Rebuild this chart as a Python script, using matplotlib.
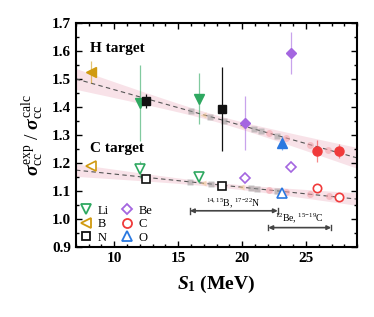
import numpy as np
import matplotlib
matplotlib.use("Agg")
import matplotlib.pyplot as plt
from matplotlib.lines import Line2D

plt.rcParams['font.family'] = ['Liberation Serif', 'DejaVu Serif']
plt.rcParams['mathtext.fontset'] = 'custom'
plt.rcParams['mathtext.rm'] = 'Liberation Serif'
plt.rcParams['mathtext.it'] = 'Liberation Serif:italic:bold'
plt.rcParams['mathtext.bf'] = 'Liberation Serif:bold'

# ---------------- data ----------------
elements = ['Li', 'Be', 'B', 'C', 'N', 'O']
colors = {'Li': '#2ea860', 'Be': '#a466e0', 'B': '#d09a10', 'C': '#f03a3a', 'N': '#111111', 'O': '#2a78e0'}
markers = {'Li': 'v', 'Be': 'D', 'B': '<', 'C': 'o', 'N': 's', 'O': '^'}

# H target (filled)
h_elem = ['B', 'Li', 'N', 'Li', 'N', 'Be', 'Be', 'O', 'C', 'C']
h_x = [8.16, 12.05, 12.5, 16.6, 18.45, 20.26, 23.83, 23.1, 25.86, 27.57]
h_y = [1.525, 1.413, 1.420, 1.430, 1.394, 1.342, 1.593, 1.273, 1.244, 1.244]
h_err = [0.04, 0.135, 0.025, 0.09, 0.15, 0.097, 0.075, 0.025, 0.04, 0.025]

# C target (open)
c_elem = ['B', 'Li', 'N', 'Li', 'N', 'Be', 'Be', 'O', 'C', 'C']
c_x = [8.16, 12.05, 12.5, 16.6, 18.45, 20.26, 23.83, 23.1, 25.86, 27.57]
c_y = [1.190, 1.178, 1.142, 1.149, 1.118, 1.146, 1.185, 1.092, 1.110, 1.080]
c_err = [0.01, 0.03, 0.01, 0.02, 0.01, 0.01, 0.01, 0.01, 0.01, 0.01]

# faded background points (H target)
hf_elem = ['N', 'B', 'N', 'N', 'B', 'N', 'N', 'C', 'N', 'C', 'C', 'C', 'C']
hf_x = [16.0, 16.92, 17.45, 18.6, 20.0, 20.95, 21.45, 22.1, 22.76, 23.4, 25.3, 26.7, 27.56]
hf_y = [1.385, 1.373, 1.366, 1.351, 1.334, 1.321, 1.315, 1.307, 1.298, 1.290, 1.266, 1.248, 1.237]

# faded background points (C target)
cf_elem = ['N', 'B', 'N', 'N', 'B', 'N', 'N', 'C', 'N', 'C', 'C', 'C']
cf_x = [15.95, 16.92, 17.6, 18.5, 19.95, 20.73, 21.2, 22.1, 22.7, 23.4, 25.3, 26.8]
cf_y = [1.133, 1.128, 1.125, 1.121, 1.114, 1.110, 1.108, 1.104, 1.101, 1.098, 1.089, 1.082]

# linear fits: intercept at x=7, slope, band half-width params
h_fit = dict(y0=1.500, slope=-0.0128, a=0.012, b=0.0032, xc=18.0)
c_fit = dict(y0=1.175, slope=-0.0047, a=0.008, b=0.0019, xc=18.0)

ranges = [(15.92, 22.79, 1.030, r'$^{14,15}$B, $^{17\mathrm{-}22}$N', 1.058),
          (22.05, 26.97, 0.970, r'$^{12}$Be, $^{15\mathrm{-}19}$C', 1.003)]

# ---------------- figure ----------------
fig = plt.figure(figsize=(3.74, 3.17), dpi=100)
ax = fig.add_axes([0.203, 0.22, 0.752, 0.708])

xs = np.linspace(7, 29, 200)
for fit in (h_fit, c_fit):
    yl = fit['y0'] + fit['slope'] * (xs - 7)
    hw = np.sqrt(fit['a'] ** 2 + (fit['b'] * (xs - fit['xc'])) ** 2)
    ax.fill_between(xs, yl - hw, yl + hw, color='#f0c0cc', alpha=0.45, lw=0, zorder=1)
    ax.plot(xs, yl, ls=(0, (4, 3)), color='#555555', lw=0.8, zorder=2)

for fx, fy, fe in ((hf_x, hf_y, hf_elem), (cf_x, cf_y, cf_elem)):
    for x, y, e in zip(fx, fy, fe):
        col = {'N': '#999999', 'B': '#f0c890', 'C': '#f5a0a8'}[e]
        ax.plot(x, y, marker=markers[e], color=col, ms=5, alpha=0.55, ls='none', mec='none', zorder=2)

for x, y, err, e in zip(h_x, h_y, h_err, h_elem):
    col = colors[e]
    ax.errorbar(x, y, yerr=err, fmt='none', ecolor=col, elinewidth=0.9, alpha=0.6 if e != 'N' else 1, zorder=3)
    ms = {'N': 5.5, 'Be': 5.5, 'C': 6.5}.get(e, 7)
    ax.plot(x, y, marker=markers[e], color=col, ms=ms, ls='none', zorder=4)

for x, y, err, e in zip(c_x, c_y, c_err, c_elem):
    col = colors[e]
    ax.errorbar(x, y, yerr=err, fmt='none', ecolor=col, elinewidth=0.9, alpha=0.6, zorder=3)
    ms = {'N': 5.5, 'Be': 5.5, 'C': 6}.get(e, 6.5)
    ax.plot(x, y, marker=markers[e], mfc='white', mec=col, mew=1.2, ms=ms, ls='none', zorder=4)

for x0, x1, y, lab, ly in ranges:
    ax.annotate('', xy=(x0, y), xytext=(x1, y),
                arrowprops=dict(arrowstyle='<|-|>', color='#444444', lw=1.2, mutation_scale=6,
                                shrinkA=0, shrinkB=0))
    ax.plot([x0, x0], [y - 0.01, y + 0.01], color='#444444', lw=1.0)
    ax.plot([x1, x1], [y - 0.01, y + 0.01], color='#444444', lw=1.0)
    ax.text((x0 + x1) / 2, ly, lab, ha='center', va='center', fontsize=7)

ax.text(8.1, 1.607, 'H target', fontsize=11, fontweight='bold', va='center')
ax.text(8.1, 1.252, 'C target', fontsize=11, fontweight='bold', va='center')

handles = [Line2D([], [], marker=markers[e], mfc='white', mec=colors[e], mew=1.3,
                  ms=5.5 if e in ('N', 'Be') else 6.5, ls='none', label=e)
           for e in ['Li', 'B', 'N', 'Be', 'C', 'O']]
ax.legend(handles=handles, ncol=2, loc='lower left', frameon=False, fontsize=9,
          handletextpad=0.4, columnspacing=1.0, labelspacing=0.12, borderaxespad=0.1,
          handlelength=1.0, borderpad=0.2)

ax.set_xlim(7, 29)
ax.set_ylim(0.9, 1.7)
ax.set_xticks([10, 15, 20, 25])
ax.set_xticks(np.arange(7, 30, 1), minor=True)
ax.set_yticks(np.arange(0.9, 1.71, 0.1))
ax.set_yticks(np.arange(0.9, 1.71, 0.05), minor=True)
ax.set_yticklabels([f'{v:.1f}' for v in np.arange(0.9, 1.71, 0.1)])
ax.tick_params(which='both', direction='in', top=True, right=True, width=1.0)
ax.tick_params(which='major', length=4, labelsize=11)
ax.tick_params(which='minor', length=2)
for lab in ax.get_xticklabels() + ax.get_yticklabels():
    lab.set_fontweight('bold')
for s in ax.spines.values():
    s.set_linewidth(1.5)

ax.set_xlabel(r'$S_{\mathbf{1}}$ (MeV)', fontsize=14, fontweight='bold', labelpad=6)
ax.set_ylabel(r'$\sigma_{\rm cc}^{\rm exp}$ / $\sigma_{\rm cc}^{\rm calc}$', fontsize=14, labelpad=4)

fig.savefig('out.png', dpi=100)
